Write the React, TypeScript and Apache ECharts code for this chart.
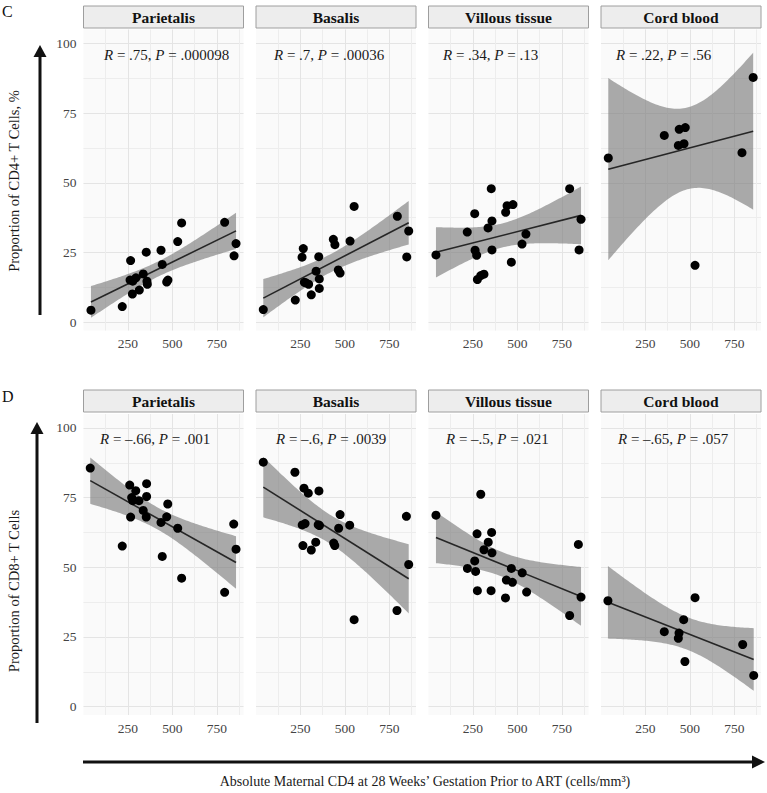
import React, { useEffect, useRef } from 'react';
import * as echarts from 'echarts';

const FONT = '"Liberation Serif", "DejaVu Serif", serif';

// ---------- data ----------
const tissues = ['Parietalis', 'Basalis', 'Villous tissue', 'Cord blood'];
const xTickLabels = [250, 500, 750];
const yTickLabels = [0, 25, 50, 75, 100];
const xGridValues = [125, 250, 375, 500, 625, 750, 875];
const yGridValues = [0, 12.5, 25, 37.5, 50, 62.5, 75, 87.5, 100];

// Panel C: proportion of CD4+ T cells (%)
const cd4ParietalisX = [42, 218, 265, 262, 277, 295, 275, 314, 336, 353, 357, 359, 436, 443, 468, 475, 530, 552, 794, 847, 858];
const cd4ParietalisY = [4.3, 5.6, 22.1, 15.1, 14.7, 15.9, 10.1, 11.5, 17.3, 25.1, 14.7, 13.6, 25.8, 20.7, 14.4, 15.1, 28.9, 35.6, 35.8, 23.8, 28.2];
const cd4BasalisX = [41, 221, 266, 259, 272, 281, 296, 311, 338, 353, 356, 356, 435, 444, 463, 473, 529, 552, 795, 848, 859];
const cd4BasalisY = [4.5, 7.9, 26.4, 23.3, 14.3, 14.1, 13.6, 9.8, 18.3, 23.5, 15.5, 12.1, 29.7, 27.8, 18.7, 17.6, 29.1, 41.5, 38.0, 23.4, 32.7];
const cd4VillousX = [42, 218, 260, 262, 271, 275, 294, 312, 335, 353, 357, 357, 434, 442, 475, 466, 526, 548, 794, 847, 858];
const cd4VillousY = [24.1, 32.3, 38.9, 25.8, 24.0, 15.3, 16.7, 17.2, 33.8, 47.9, 36.3, 25.9, 39.4, 41.8, 42.2, 21.5, 28.0, 31.6, 47.9, 25.9, 36.9];
const cd4CordX = [41, 356, 440, 474, 435, 467, 529, 793, 856];
const cd4CordY = [58.9, 67.0, 69.2, 69.8, 63.4, 64.0, 20.4, 60.8, 87.8];
const cd4R = ['.75', '.7', '.34', '.22'];
const cd4P = ['.000098', '.00036', '.13', '.56'];

// Panel D: proportion of CD8+ T cells
const cd8ParietalisX = [38, 260, 294, 355, 271, 277, 312, 355, 336, 353, 265, 474, 468, 436, 530, 218, 443, 552, 794, 845, 858];
const cd8ParietalisY = [85.6, 79.5, 77.5, 80.0, 75.0, 73.9, 73.9, 75.4, 70.4, 68.0, 68.0, 72.7, 68.1, 66.1, 64.0, 57.6, 53.9, 46.1, 41.0, 65.5, 56.5];
const cd8BasalisX = [41, 219, 270, 294, 354, 260, 276, 350, 357, 264, 311, 336, 437, 443, 465, 473, 527, 552, 793, 846, 859];
const cd8BasalisY = [87.7, 84.1, 78.4, 76.6, 77.4, 65.2, 65.7, 65.3, 65.0, 57.8, 56.2, 59.0, 58.7, 57.8, 64.0, 68.9, 65.1, 31.2, 34.5, 68.3, 51.0];
const cd8VillousX = [42, 294, 273, 355, 336, 312, 357, 260, 219, 265, 466, 527, 438, 472, 275, 352, 433, 552, 794, 843, 858];
const cd8VillousY = [68.7, 76.2, 62.0, 62.5, 59.0, 56.3, 55.2, 52.3, 49.6, 48.5, 49.6, 48.0, 45.4, 44.6, 41.6, 41.6, 39.0, 41.1, 32.7, 58.2, 39.3];
const cd8CordX = [39, 356, 439, 435, 465, 529, 472, 797, 859];
const cd8CordY = [38.0, 26.9, 26.4, 24.5, 31.2, 39.1, 16.2, 22.3, 11.2];
const cd8R = ['\u2013.66', '\u2013.6', '\u2013.5', '\u2013.65'];
const cd8P = ['.001', '.0039', '.021', '.057'];

// two-sided 95% t quantiles by degrees of freedom
const T975: Record<number, number> = { 7: 2.3646, 19: 2.093 };

const rows = [
  { letter: 'C', yTitle: 'Proportion of CD4+ T Cells, %', xs: [cd4ParietalisX, cd4BasalisX, cd4VillousX, cd4CordX], ys: [cd4ParietalisY, cd4BasalisY, cd4VillousY, cd4CordY], R: cd4R, P: cd4P },
  { letter: 'D', yTitle: 'Proportion of CD8+ T Cells', xs: [cd8ParietalisX, cd8BasalisX, cd8VillousX, cd8CordX], ys: [cd8ParietalisY, cd8BasalisY, cd8VillousY, cd8CordY], R: cd8R, P: cd8P },
];

// linear model fit with 95% confidence band (like geom_smooth(method = "lm"))
function lmFit(xs: number[], ys: number[]) {
  const n = xs.length;
  const mx = xs.reduce((a, b) => a + b, 0) / n;
  const my = ys.reduce((a, b) => a + b, 0) / n;
  let sxx = 0, sxy = 0;
  for (let i = 0; i < n; i++) { sxx += (xs[i] - mx) ** 2; sxy += (xs[i] - mx) * (ys[i] - my); }
  const b = sxy / sxx;
  const a = my - b * mx;
  let sse = 0;
  for (let i = 0; i < n; i++) sse += (ys[i] - (a + b * xs[i])) ** 2;
  const s = Math.sqrt(sse / (n - 2));
  const t = T975[n - 2] ?? 2.0;
  const x0 = Math.min(...xs), x1 = Math.max(...xs);
  const band: number[][] = [];
  const steps = 80;
  for (let k = 0; k < steps; k++) {
    const x = x0 + ((x1 - x0) * k) / (steps - 1);
    const fit = a + b * x;
    const se = s * Math.sqrt(1 / n + (x - mx) ** 2 / sxx);
    band.push([x, fit - t * se, fit + t * se]);
  }
  return { line: [[x0, a + b * x0], [x1, a + b * x1]], band };
}

// ---------- layout ----------
const PANEL_LEFT = [83.5, 256, 428.5, 601];
const PANEL_W = 160;
const PANEL_TOP = [29.5, 414];
const PANEL_H = 301;
const STRIP_TOP = [6, 390];
const STRIP_H = 22;
const ANNOT_X = [[104, 274, 443, 616], [100, 276, 446, 618]];
const ANNOT_Y = [54.5, 438.5];
const NB = '\u00A0';

export default function App() {
  const ref = useRef<HTMLDivElement>(null);

  useEffect(() => {
    document.body.style.margin = '0';
    if (!ref.current) return;
    const chart = echarts.init(ref.current, undefined, { renderer: 'svg' });

    const grids: any[] = [];
    const xAxes: any[] = [];
    const yAxes: any[] = [];
    const series: any[] = [];
    const graphics: any[] = [];

    rows.forEach((row, r) => {
      for (let c = 0; c < 4; c++) {
        const idx = r * 4 + c;
        grids.push({
          left: PANEL_LEFT[c], top: PANEL_TOP[r], width: PANEL_W, height: PANEL_H,
          show: true, backgroundColor: '#fafafa', borderWidth: 0,
        });
        xAxes.push({
          gridIndex: idx, type: 'value', min: 0, max: 900,
          axisLine: { show: false },
          axisTick: { show: false, customValues: xGridValues },
          axisLabel: { show: true, customValues: xTickLabels, fontFamily: FONT, fontSize: 13.5, color: '#444', margin: 6 },
          splitLine: { show: true, customValues: xGridValues, lineStyle: { color: ['#ededed', '#e4e4e4'], width: 1 } },
        });
        yAxes.push({
          gridIndex: idx, type: 'value', min: -3, max: 105,
          axisLine: { show: false },
          axisTick: { show: false, customValues: yGridValues },
          axisLabel: { show: c === 0, customValues: yTickLabels, fontFamily: FONT, fontSize: 13.5, color: '#444', margin: 7 },
          splitLine: { show: true, customValues: yGridValues, lineStyle: { color: ['#e4e4e4', '#ededed'], width: 1 } },
        });

        const xs = row.xs[c];
        const ys = row.ys[c];
        const fit = lmFit(xs, ys);
        const band = fit.band;
        series.push({
          type: 'custom', xAxisIndex: idx, yAxisIndex: idx, silent: true, z: 1,
          data: band,
          encode: { x: 0, y: [1, 2] },
          renderItem: (params: any, api: any) => {
            if (params.dataIndex !== 0) return null;
            const upper = band.map((p) => api.coord([p[0], p[2]]));
            const lower = band.map((p) => api.coord([p[0], p[1]])).reverse();
            return { type: 'polygon', shape: { points: upper.concat(lower) }, style: { fill: 'rgba(120,120,120,0.62)' } };
          },
        });
        series.push({
          type: 'line', xAxisIndex: idx, yAxisIndex: idx, z: 2, silent: true,
          data: fit.line, symbol: 'none',
          lineStyle: { color: '#262626', width: 1.6 },
        });
        series.push({
          type: 'scatter', xAxisIndex: idx, yAxisIndex: idx, z: 3, silent: true,
          data: xs.map((x, i) => [x, ys[i]]),
          symbol: 'circle', symbolSize: 9,
          itemStyle: { color: '#000', opacity: 1 },
        });

        // strip
        graphics.push({
          type: 'rect', silent: true, z: 10,
          shape: { x: PANEL_LEFT[c], y: STRIP_TOP[r], width: PANEL_W, height: STRIP_H },
          style: { fill: '#ededed', stroke: '#9e9e9e', lineWidth: 1 },
        });
        graphics.push({
          type: 'text', silent: true, z: 11,
          x: PANEL_LEFT[c] + PANEL_W / 2, y: STRIP_TOP[r] + STRIP_H / 2 + 0.5,
          style: {
            text: tissues[c], fontFamily: FONT, fontSize: 15.5, fontWeight: 'bold', fill: '#111',
            align: 'center', verticalAlign: 'middle', textAlign: 'center', textVerticalAlign: 'middle',
          },
        });
        // correlation annotation
        const rich = {
          i: { fontFamily: FONT, fontSize: 15, fontStyle: 'italic', fill: '#1a1a1a' },
          n: { fontFamily: FONT, fontSize: 15, fill: '#1a1a1a' },
        };
        graphics.push({
          type: 'text', silent: true, z: 11,
          x: ANNOT_X[r][c], y: ANNOT_Y[r],
          style: {
            text: `{i|R}{n|${NB}=${NB}${row.R[c]},${NB}}{i|P}{n|${NB}=${NB}${row.P[c]}}`,
            rich, fontFamily: FONT, fontSize: 15, fill: '#1a1a1a',
            align: 'left', verticalAlign: 'middle', textAlign: 'left', textVerticalAlign: 'middle',
          },
        });
      }
    });

    // panel letters
    graphics.push({ type: 'text', silent: true, z: 11, x: 2, y: 3, style: { text: 'C', fontFamily: FONT, fontSize: 16, fill: '#111' } });
    graphics.push({ type: 'text', silent: true, z: 11, x: 2, y: 388, style: { text: 'D', fontFamily: FONT, fontSize: 16, fill: '#111' } });

    // y titles
    const yTitlePos = [[14, 181], [14, 591]];
    rows.forEach((row, r) => {
      graphics.push({
        type: 'text', silent: true, z: 11, x: yTitlePos[r][0], y: yTitlePos[r][1], rotation: Math.PI / 2,
        style: {
          text: row.yTitle, fontFamily: FONT, fontSize: 14.5, fill: '#1a1a1a',
          align: 'center', verticalAlign: 'middle', textAlign: 'center', textVerticalAlign: 'middle',
        },
      });
    });

    // arrows
    const arrowColor = '#111';
    graphics.push({ type: 'line', silent: true, z: 11, shape: { x1: 40, y1: 315, x2: 40, y2: 55 }, style: { stroke: arrowColor, lineWidth: 3 } });
    graphics.push({ type: 'polygon', silent: true, z: 11, shape: { points: [[33.5, 57], [46.5, 57], [40, 45]] }, style: { fill: arrowColor } });
    graphics.push({ type: 'line', silent: true, z: 11, shape: { x1: 37, y1: 723, x2: 37, y2: 432 }, style: { stroke: arrowColor, lineWidth: 3 } });
    graphics.push({ type: 'polygon', silent: true, z: 11, shape: { points: [[30.5, 434], [43.5, 434], [37, 422]] }, style: { fill: arrowColor } });
    graphics.push({ type: 'line', silent: true, z: 11, shape: { x1: 83, y1: 762, x2: 754, y2: 762 }, style: { stroke: arrowColor, lineWidth: 3 } });
    graphics.push({ type: 'polygon', silent: true, z: 11, shape: { points: [[752, 755.5], [752, 768.5], [765, 762]] }, style: { fill: arrowColor } });

    // x title
    graphics.push({
      type: 'text', silent: true, z: 11, x: 425, y: 781,
      style: {
        text: 'Absolute Maternal CD4 at 28 Weeks\u2019 Gestation Prior to ART (cells/mm\u00B3)',
        fontFamily: FONT, fontSize: 14, fill: '#1a1a1a',
        align: 'center', verticalAlign: 'middle', textAlign: 'center', textVerticalAlign: 'middle',
      },
    });

    chart.setOption({
      animation: false,
      backgroundColor: '#ffffff',
      textStyle: { fontFamily: FONT },
      grid: grids,
      xAxis: xAxes,
      yAxis: yAxes,
      series,
      graphic: { elements: graphics },
    });

    return () => chart.dispose();
  }, []);

  return <div ref={ref} style={{ width: 767, height: 793 }} />;
}
